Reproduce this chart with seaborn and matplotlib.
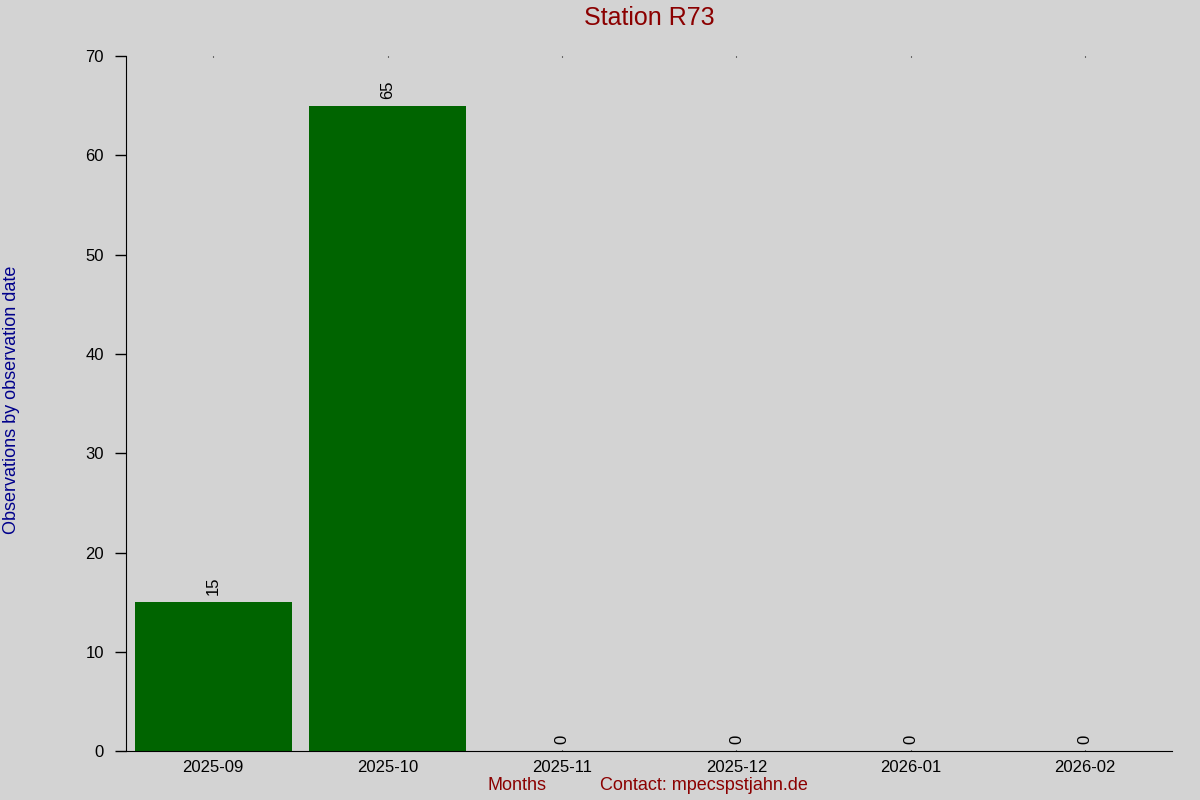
import matplotlib
matplotlib.use("Agg")
import matplotlib.pyplot as plt
import seaborn as sns
import pandas as pd

months = ["2025-09", "2025-10", "2025-11", "2025-12", "2026-01", "2026-02"]
counts = [15, 65, 0, 0, 0, 0]

sns.set_style("ticks")
plt.rcParams['font.family'] = ['Liberation Sans', 'DejaVu Sans']

df = pd.DataFrame({"month": months, "count": counts})

fig = plt.figure(figsize=(12, 8), dpi=100, facecolor="#d3d3d3")
ax = fig.add_axes([0.105, 0.061, 0.872, 0.869])
ax.set_facecolor("#d3d3d3")

sns.barplot(data=df, x="month", y="count", color="#006400", width=0.9,
            saturation=1, ax=ax, edgecolor="none")

for i, v in enumerate(counts):
    ax.annotate(str(v), (i, v), xytext=(0, 5), textcoords="offset points",
                rotation=90, ha="center", va="bottom", fontsize=12, color="black")

ax.set_xlim(-0.5, 5.5)
ax.set_ylim(0, 70)
ax.set_yticks(range(0, 71, 10))
ax.spines["top"].set_visible(False)
ax.spines["right"].set_visible(False)
for s in ("left", "bottom"):
    ax.spines[s].set_color("black")
ax.tick_params(axis="y", length=8, width=1, labelsize=12, pad=8, colors="black")
ax.tick_params(axis="x", length=1, labelsize=12, pad=6, top=True, direction="in",
               colors="black")
ax.set_xlabel("")
ax.set_ylabel("")

fig.text(0.541, 0.977, "Station R73", ha="center", va="center", fontsize=18, color="#8b0000")
fig.text(0.010, 0.5, "Observations by observation date", rotation=90, ha="center",
         va="center", fontsize=13, color="#00008b")
fig.text(0.431, 0.018, "Months", ha="center", va="center", fontsize=13, color="#8b0000")
fig.text(0.587, 0.018, "Contact: mpecspstjahn.de", ha="center", va="center",
         fontsize=13, color="#8b0000")

fig.savefig("out.png", dpi=100, facecolor=fig.get_facecolor())
